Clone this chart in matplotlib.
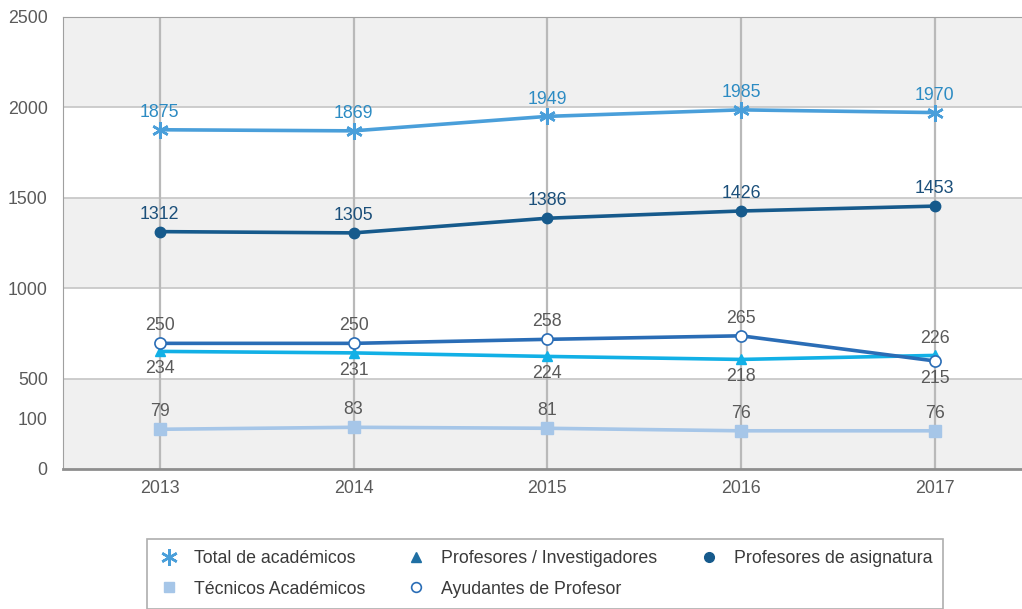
import matplotlib.pyplot as plt
from matplotlib.lines import Line2D

plt.rcParams['font.family'] = ['Liberation Sans', 'DejaVu Sans']

# years on the x axis
years = [2013, 2014, 2015, 2016, 2017]

# series on the main (left) scale
total = [1875, 1869, 1949, 1985, 1970]
asignatura = [1312, 1305, 1386, 1426, 1453]

# series on the secondary scale
investigadores = [234, 231, 224, 218, 226]
ayudantes = [250, 250, 258, 265, 215]
tecnicos = [79, 83, 81, 76, 76]

main_ticks = [0, 500, 1000, 1500, 2000, 2500]
small_ticks = [100]

# label placement: +1 above the point, -1 below
ayud_side = [1, 1, 1, 1, -1]
inv_side = [-1, -1, -1, -1, 1]

c_total = '#4a9fda'
c_asig = '#165a8c'
c_inv = '#12b0e6'
c_ayud = '#2a6db6'
c_tec = '#a6c6e8'
c_text = '#5a5a5a'
fs = 12.8

fig = plt.figure(figsize=(10.22, 6.09), dpi=100)
ax = fig.add_axes([0.0616, 0.2299, 0.9384, 0.7427])
ax.set_xlim(2012.5, 2017.45)
ax.set_ylim(0, 2500)

# alternating grey bands
for lo in (0, 1000, 2000):
    ax.axhspan(lo, lo + 500, color='#f0f0f0', zorder=0, lw=0)
for y in (500, 1000, 1500, 2000):
    ax.axhline(y, color='#c9c9c9', lw=1.3, zorder=1)
for x in years:
    ax.axvline(x, color='#b9b9b9', lw=1.6, zorder=1)

ax.spines['right'].set_visible(False)
ax.spines['left'].set_color('#a0a0a0')
ax.spines['top'].set_color('#a0a0a0')
ax.spines['bottom'].set_color('#8e8e8e')
ax.spines['bottom'].set_linewidth(2)

ax.set_xticks(years)
ax.set_yticks(main_ticks)
ax.tick_params(length=0, labelsize=fs, labelcolor=c_text)
ax.tick_params(axis='x', pad=8)
ax.tick_params(axis='y', pad=11)

# secondary scale for the smaller series
ax2 = ax.twinx()
ax2.set_ylim(0, 900)
for s in ax2.spines.values():
    s.set_visible(False)
ax2.yaxis.tick_left()
ax2.set_yticks(small_ticks)
ax2.tick_params(length=0, labelsize=fs, labelcolor=c_text, pad=11)

ax.plot(years, total, color=c_total, lw=2.6, marker=(6, 2, 0), ms=12,
        mew=1.8, zorder=3)
ax.plot(years, asignatura, color=c_asig, lw=2.6, marker='o', ms=7.5, zorder=3)

ax2.plot(years, investigadores, color=c_inv, lw=2.6, marker='^', ms=7, zorder=3)
ax2.plot(years, ayudantes, color=c_ayud, lw=2.6, marker='o', ms=8,
         mfc='white', mec=c_ayud, mew=1.2, zorder=4)
ax2.plot(years, tecnicos, color=c_tec, lw=2.6, marker='s', ms=8, zorder=3)

for x, v in zip(years, total):
    ax.annotate(str(v), (x, v), xytext=(0, 12.5), textcoords='offset points',
                ha='center', va='center', fontsize=fs, color='#2c8bc3')
for x, v in zip(years, asignatura):
    ax.annotate(str(v), (x, v), xytext=(0, 12.5), textcoords='offset points',
                ha='center', va='center', fontsize=fs, color='#1b4f7a')
for x, v, s in zip(years, ayudantes, ayud_side):
    ax2.annotate(str(v), (x, v), xytext=(0, 12.5 * s), textcoords='offset points',
                 ha='center', va='center', fontsize=fs, color=c_text)
for x, v, s in zip(years, investigadores, inv_side):
    ax2.annotate(str(v), (x, v), xytext=(0, 12.5 * s), textcoords='offset points',
                 ha='center', va='center', fontsize=fs, color=c_text)
for x, v in zip(years, tecnicos):
    ax2.annotate(str(v), (x, v), xytext=(0, 12.5), textcoords='offset points',
                 ha='center', va='center', fontsize=fs, color=c_text)

# legend with marker-only entries
handles = [
    Line2D([], [], ls='none', marker=(6, 2, 0), ms=12, mew=1.8, color=c_total),
    Line2D([], [], ls='none', marker='s', ms=7, color=c_tec),
    Line2D([], [], ls='none', marker='^', ms=7, color='#1f6fa3'),
    Line2D([], [], ls='none', marker='o', ms=7, mfc='white', mec=c_ayud, mew=1.2),
    Line2D([], [], ls='none', marker='o', ms=7, color=c_asig),
]
labels = ['Total de académicos', 'Técnicos Académicos',
          'Profesores / Investigadores', 'Ayudantes de Profesor',
          'Profesores de asignatura']
leg = fig.legend(handles, labels, ncol=3, loc='upper left',
                 bbox_to_anchor=(0.1438, 0.003, 0.779, 0.1117), mode='expand',
                 fontsize=fs, frameon=True, fancybox=False, edgecolor='#9a9a9a',
                 handlelength=1.2, handletextpad=0.8, labelspacing=0.75,
                 borderaxespad=0, borderpad=0.62)
leg.get_frame().set_linewidth(1.2)
for t in leg.get_texts():
    t.set_color('#3a3a3a')

fig.savefig('out.png', dpi=100)
